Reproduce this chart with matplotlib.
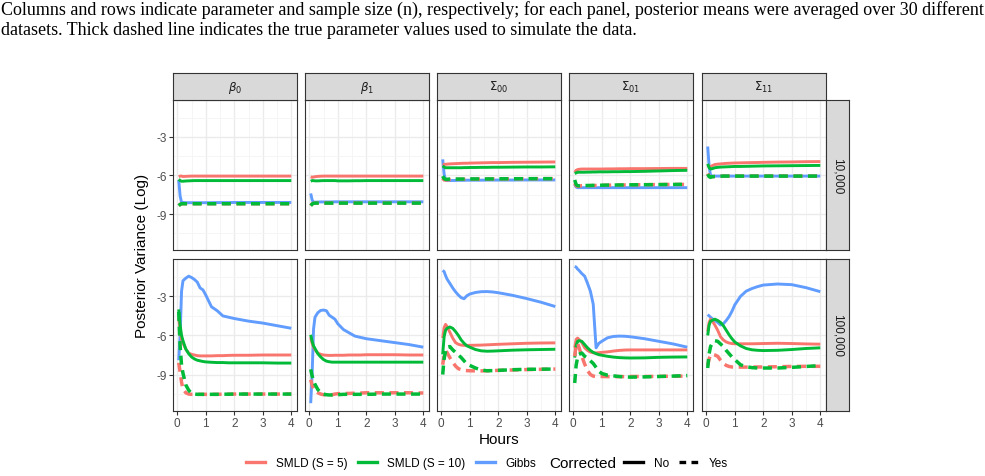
import numpy as np
import matplotlib
matplotlib.use("Agg")
import matplotlib.pyplot as plt
from matplotlib.lines import Line2D

# horas de muestreo (comunes a todas las curvas)
hours = [0.05, 0.1, 0.15, 0.2, 0.3, 0.4, 0.5, 0.6, 0.7, 0.8, 0.9, 1.0,
         1.2, 1.4, 1.6, 1.8, 2.0, 2.5, 3.0, 3.5, 4.0]

params = [r"$\beta_0$", r"$\beta_1$", r"$\Sigma_{00}$", r"$\Sigma_{01}$", r"$\Sigma_{11}$"]
sizes = ["10,000", "100,000"]
methods = ["SMLD (S = 5)", "SMLD (S = 10)", "Gibbs"]
colors = ["#F8766D", "#00BA38", "#619CFF"]

# n = 10,000 (una lista por parametro)
top_smld5 = [
    [-6.1, -6.05, -6.05, -6.08, -6.07, -6.06, -6.05, -6.05, -6.05, -6.05, -6.05, -6.05, -6.05, -6.05, -6.05, -6.05, -6.05, -6.05, -6.05, -6.05, -6.05],
    [-6.1, -6.15, -6.12, -6.1, -6.07, -6.06, -6.05, -6.05, -6.05, -6.05, -6.05, -6.05, -6.05, -6.05, -6.05, -6.05, -6.05, -6.05, -6.05, -6.05, -6.05],
    [-5.1, -5.15, -5.13, -5.12, -5.1, -5.09, -5.08, -5.07, -5.06, -5.05, -5.05, -5.04, -5.03, -5.02, -5.01, -5.0, -5.0, -4.98, -4.97, -4.96, -4.95],
    [-5.75, -5.6, -5.55, -5.52, -5.5, -5.5, -5.5, -5.5, -5.5, -5.5, -5.5, -5.5, -5.49, -5.49, -5.48, -5.48, -5.47, -5.47, -5.46, -5.45, -5.45],
    [-5.2, -5.3, -5.3, -5.25, -5.15, -5.12, -5.1, -5.08, -5.06, -5.05, -5.04, -5.03, -5.02, -5.01, -5.0, -4.99, -4.98, -4.96, -4.95, -4.93, -4.92],
]
top_smld10 = [
    [-6.3, -6.4, -6.45, -6.45, -6.43, -6.42, -6.41, -6.4, -6.4, -6.4, -6.4, -6.4, -6.4, -6.4, -6.4, -6.4, -6.4, -6.4, -6.4, -6.4, -6.4],
    [-6.45, -6.4, -6.4, -6.42, -6.42, -6.41, -6.4, -6.4, -6.4, -6.4, -6.4, -6.42, -6.42, -6.42, -6.41, -6.41, -6.4, -6.4, -6.4, -6.4, -6.4],
    [-5.25, -5.35, -5.4, -5.4, -5.4, -5.4, -5.4, -5.4, -5.4, -5.39, -5.39, -5.38, -5.38, -5.37, -5.37, -5.36, -5.36, -5.35, -5.34, -5.34, -5.33],
    [-5.85, -5.8, -5.75, -5.75, -5.75, -5.75, -5.74, -5.74, -5.73, -5.73, -5.72, -5.72, -5.72, -5.71, -5.71, -5.7, -5.7, -5.68, -5.65, -5.62, -5.6],
    [-5.1, -5.4, -5.5, -5.48, -5.4, -5.37, -5.35, -5.34, -5.33, -5.32, -5.31, -5.3, -5.3, -5.29, -5.28, -5.27, -5.26, -5.25, -5.24, -5.23, -5.22],
]
top_gibbs = [
    [-6.35, -7.6, -8.1, -8.1, -8.12, -8.12, -8.12, -8.12, -8.12, -8.12, -8.12, -8.12, -8.12, -8.11, -8.11, -8.11, -8.1, -8.1, -8.1, -8.1, -8.1],
    [-7.4, -7.9, -8.1, -8.08, -8.07, -8.06, -8.06, -8.06, -8.06, -8.06, -8.05, -8.05, -8.05, -8.05, -8.05, -8.05, -8.05, -8.05, -8.05, -8.05, -8.05],
    [-4.75, -5.9, -6.35, -6.4, -6.4, -6.39, -6.39, -6.38, -6.38, -6.38, -6.37, -6.37, -6.37, -6.37, -6.36, -6.36, -6.36, -6.36, -6.35, -6.35, -6.35],
    [-6.7, -6.9, -6.95, -6.95, -6.95, -6.95, -6.95, -6.95, -6.95, -6.95, -6.95, -6.95, -6.95, -6.95, -6.95, -6.95, -6.95, -6.95, -6.95, -6.95, -6.95],
    [-3.75, -5.3, -6.0, -6.05, -6.05, -6.05, -6.05, -6.05, -6.05, -6.05, -6.05, -6.05, -6.05, -6.05, -6.05, -6.05, -6.05, -6.05, -6.05, -6.05, -6.05],
]
top_smld5_corr = [
    [-8.35, -8.25, -8.2, -8.2, -8.2, -8.2, -8.2, -8.2, -8.2, -8.2, -8.2, -8.2, -8.2, -8.2, -8.2, -8.2, -8.2, -8.2, -8.2, -8.2, -8.2],
    [-8.35, -8.2, -8.17, -8.15, -8.15, -8.15, -8.15, -8.15, -8.15, -8.15, -8.15, -8.15, -8.15, -8.15, -8.15, -8.15, -8.15, -8.15, -8.15, -8.15, -8.15],
    [-6.2, -6.35, -6.35, -6.35, -6.32, -6.3, -6.3, -6.3, -6.3, -6.3, -6.3, -6.29, -6.29, -6.28, -6.28, -6.28, -6.27, -6.27, -6.26, -6.25, -6.25],
    [-6.6, -6.8, -6.85, -6.83, -6.8, -6.8, -6.8, -6.79, -6.79, -6.78, -6.78, -6.77, -6.76, -6.75, -6.75, -6.74, -6.73, -6.72, -6.71, -6.7, -6.7],
    [-5.85, -6.05, -6.1, -6.1, -6.08, -6.07, -6.06, -6.05, -6.05, -6.05, -6.05, -6.05, -6.05, -6.05, -6.05, -6.05, -6.05, -6.05, -6.05, -6.05, -6.05],
]
top_smld10_corr = [
    [-8.35, -8.25, -8.2, -8.2, -8.2, -8.2, -8.2, -8.2, -8.2, -8.2, -8.2, -8.2, -8.2, -8.2, -8.2, -8.2, -8.2, -8.2, -8.2, -8.2, -8.2],
    [-8.35, -8.22, -8.17, -8.15, -8.15, -8.15, -8.15, -8.15, -8.15, -8.15, -8.15, -8.15, -8.15, -8.15, -8.15, -8.15, -8.15, -8.15, -8.15, -8.15, -8.15],
    [-6.05, -6.25, -6.3, -6.3, -6.28, -6.28, -6.28, -6.28, -6.28, -6.28, -6.28, -6.27, -6.27, -6.27, -6.27, -6.27, -6.26, -6.26, -6.25, -6.25, -6.25],
    [-6.35, -6.7, -6.8, -6.8, -6.78, -6.78, -6.78, -6.78, -6.77, -6.77, -6.77, -6.76, -6.75, -6.75, -6.74, -6.74, -6.73, -6.72, -6.71, -6.7, -6.69],
    [-5.9, -6.1, -6.15, -6.1, -6.08, -6.07, -6.06, -6.05, -6.05, -6.05, -6.05, -6.05, -6.05, -6.05, -6.05, -6.05, -6.05, -6.05, -6.05, -6.05, -6.05],
]

# n = 100,000
bot_smld5 = [
    [-4.65, -5.6, -6.3, -6.6, -7.05, -7.35, -7.45, -7.5, -7.55, -7.57, -7.57, -7.57, -7.57, -7.55, -7.55, -7.53, -7.52, -7.52, -7.5, -7.5, -7.5],
    [-6.15, -6.6, -6.9, -7.1, -7.35, -7.45, -7.5, -7.52, -7.53, -7.53, -7.52, -7.52, -7.52, -7.5, -7.5, -7.5, -7.48, -7.48, -7.48, -7.5, -7.5],
    [-6.2, -5.4, -5.15, -5.3, -5.75, -6.2, -6.55, -6.68, -6.74, -6.76, -6.76, -6.76, -6.75, -6.74, -6.72, -6.7, -6.68, -6.64, -6.6, -6.58, -6.57],
    [-6.95, -6.3, -6.2, -6.3, -6.55, -6.95, -7.15, -7.28, -7.33, -7.34, -7.32, -7.3, -7.26, -7.2, -7.15, -7.12, -7.11, -7.11, -7.11, -7.11, -7.11],
    [-5.7, -5.0, -4.75, -4.85, -5.2, -5.6, -6.1, -6.35, -6.5, -6.58, -6.62, -6.64, -6.64, -6.64, -6.64, -6.63, -6.62, -6.6, -6.62, -6.65, -6.67],
]
bot_smld10 = [
    [-4.0, -5.2, -6.0, -6.4, -7.05, -7.4, -7.65, -7.8, -7.9, -7.95, -8.0, -8.03, -8.06, -8.08, -8.08, -8.1, -8.1, -8.1, -8.1, -8.12, -8.12],
    [-5.95, -6.45, -6.8, -7.0, -7.4, -7.65, -7.85, -7.97, -8.02, -8.05, -8.05, -8.05, -8.05, -8.05, -8.05, -8.05, -8.05, -8.05, -8.05, -8.05, -8.05],
    [-7.45, -6.1, -5.6, -5.45, -5.35, -5.45, -5.7, -6.0, -6.35, -6.6, -6.8, -6.9, -7.08, -7.18, -7.21, -7.2, -7.18, -7.13, -7.1, -7.08, -7.06],
    [-7.7, -6.8, -6.45, -6.4, -6.45, -6.7, -6.95, -7.15, -7.3, -7.4, -7.48, -7.52, -7.6, -7.66, -7.7, -7.72, -7.73, -7.72, -7.68, -7.66, -7.65],
    [-6.0, -5.2, -4.9, -4.85, -4.75, -4.85, -5.0, -5.25, -5.6, -5.95, -6.25, -6.5, -6.8, -7.0, -7.1, -7.14, -7.16, -7.14, -7.08, -7.0, -6.95],
]
bot_gibbs = [
    [-7.9, -6.0, -2.6, -1.8, -1.6, -1.45, -1.55, -1.7, -1.9, -2.35, -2.5, -2.9, -3.8, -4.1, -4.5, -4.6, -4.7, -4.9, -5.05, -5.25, -5.45],
    [-11.2, -9.0, -5.5, -4.6, -4.25, -4.08, -4.05, -4.1, -4.45, -4.6, -4.75, -5.1, -5.55, -5.8, -6.05, -6.15, -6.25, -6.4, -6.55, -6.7, -6.9],
    [-1.0, -1.1, -1.4, -1.66, -2.0, -2.35, -2.65, -2.9, -3.1, -3.18, -2.95, -2.82, -2.7, -2.64, -2.63, -2.66, -2.72, -2.92, -3.17, -3.45, -3.78],
    [-0.7, -0.75, -0.9, -1.0, -1.25, -1.45, -2.0, -2.6, -3.6, -6.95, -6.6, -6.45, -6.18, -6.08, -6.05, -6.06, -6.1, -6.25, -6.45, -6.65, -6.9],
    [-4.4, -4.5, -4.6, -4.7, -4.85, -5.0, -5.2, -5.1, -4.85, -4.55, -4.15, -3.65, -3.0, -2.6, -2.4, -2.25, -2.13, -2.05, -2.1, -2.33, -2.64],
]
bot_smld5_corr = [
    [-8.1, -8.8, -9.6, -10.1, -10.4, -10.5, -10.52, -10.52, -10.52, -10.52, -10.52, -10.52, -10.52, -10.52, -10.51, -10.51, -10.5, -10.5, -10.5, -10.5, -10.5],
    [-9.4, -9.8, -10.1, -10.25, -10.4, -10.5, -10.55, -10.57, -10.57, -10.55, -10.5, -10.47, -10.45, -10.45, -10.43, -10.42, -10.4, -10.4, -10.4, -10.4, -10.42],
    [-8.25, -7.5, -7.2, -7.3, -7.7, -8.05, -8.35, -8.55, -8.63, -8.68, -8.7, -8.71, -8.72, -8.72, -8.71, -8.7, -8.68, -8.65, -8.62, -8.6, -8.58],
    [-7.6, -6.7, -6.6, -6.9, -7.6, -8.2, -8.7, -9.0, -9.12, -9.15, -9.15, -9.15, -9.16, -9.16, -9.16, -9.16, -9.15, -9.15, -9.14, -9.13, -9.12],
    [-8.3, -7.8, -7.5, -7.45, -7.5, -7.6, -7.9, -8.15, -8.3, -8.38, -8.42, -8.43, -8.43, -8.43, -8.43, -8.42, -8.42, -8.4, -8.38, -8.37, -8.37],
]
bot_smld10_corr = [
    [-4.2, -6.8, -8.3, -8.9, -9.8, -10.2, -10.45, -10.5, -10.52, -10.52, -10.52, -10.52, -10.52, -10.52, -10.51, -10.51, -10.5, -10.5, -10.5, -10.5, -10.5],
    [-8.6, -9.1, -9.5, -9.75, -10.15, -10.4, -10.5, -10.55, -10.57, -10.57, -10.55, -10.55, -10.52, -10.52, -10.52, -10.52, -10.52, -10.5, -10.5, -10.5, -10.5],
    [-9.0, -7.8, -7.2, -6.9, -6.85, -7.1, -7.3, -7.5, -7.7, -7.95, -8.2, -8.3, -8.5, -8.65, -8.71, -8.7, -8.68, -8.63, -8.6, -8.59, -8.58],
    [-9.65, -8.3, -7.7, -7.45, -7.35, -7.6, -7.75, -7.95, -8.15, -8.45, -8.75, -8.92, -9.05, -9.1, -9.15, -9.18, -9.2, -9.18, -9.15, -9.12, -9.08],
    [-8.5, -7.4, -6.85, -6.65, -6.4, -6.45, -6.65, -6.85, -7.15, -7.4, -7.65, -7.85, -8.25, -8.4, -8.47, -8.5, -8.5, -8.5, -8.45, -8.38, -8.32],
]

W, H = 985, 477
fig = plt.figure(figsize=(W / 100, H / 100), dpi=100)
plt.rcParams["font.family"] = ["Liberation Sans", "DejaVu Sans"]
plt.rcParams["mathtext.fontset"] = "dejavusans"

def box(x0, y0, x1, y1):
    # pixeles (desde arriba) -> coordenadas de figura
    return [x0 / W, 1 - y1 / H, (x1 - x0) / W, (y1 - y0) / H]

col_left = [173, 305, 437, 569, 702]
pw = 124
rows_y = [(101, 251), (260, 412)]
dark = "#333333"
lw_solid, lw_dash = 2.1, 2.5

for r in range(2):
    if r == 0:
        series = [top_smld5, top_smld10, top_gibbs, top_smld5_corr, top_smld10_corr]
    else:
        series = [bot_smld5, bot_smld10, bot_gibbs, bot_smld5_corr, bot_smld10_corr]
    for c in range(5):
        ax = fig.add_axes(box(col_left[c], rows_y[r][0], col_left[c] + pw, rows_y[r][1]))
        ax.set_xlim(-0.15, 4.2)
        ax.set_ylim(-11.8, -0.13)
        ax.set_xticks([0, 1, 2, 3, 4])
        ax.set_xticks([0.5, 1.5, 2.5, 3.5], minor=True)
        ax.set_yticks([-3, -6, -9])
        ax.set_yticks([-1.5, -4.5, -7.5, -10.5], minor=True)
        ax.grid(True, which="major", color="#EBEBEB", linewidth=1.0, zorder=0)
        ax.grid(True, which="minor", color="#F4F4F4", linewidth=0.6, zorder=0)
        ax.set_axisbelow(True)
        for s in ax.spines.values():
            s.set_color(dark)
            s.set_linewidth(0.8)
        ax.tick_params(which="major", length=3, width=0.8, color=dark,
                       labelsize=8.5, labelcolor="#4D4D4D", pad=1.5)
        ax.tick_params(which="minor", length=0)
        if c > 0:
            ax.tick_params(axis="y", which="major", length=0, labelleft=False)
        if r == 0:
            ax.tick_params(axis="x", which="major", length=0, labelbottom=False)
        ax.set_yticklabels(["-3", "-6", "-9"])
        # Gibbs primero, luego SMLD, luego las corregidas (discontinuas)
        ax.plot(hours, series[2][c], color=colors[2], lw=lw_solid, solid_capstyle="butt", zorder=2)
        ax.plot(hours, series[0][c], color=colors[0], lw=lw_solid, solid_capstyle="butt", zorder=3)
        ax.plot(hours, series[1][c], color=colors[1], lw=lw_solid, solid_capstyle="butt", zorder=3)
        ax.plot(hours, series[3][c], color=colors[0], lw=lw_dash, dashes=(2.6, 1.6), zorder=4)
        ax.plot(hours, series[4][c], color=colors[1], lw=lw_dash, dashes=(2.6, 1.6), zorder=4)

        if r == 0:
            st = fig.add_axes(box(col_left[c], 74, col_left[c] + pw, 101))
            st.set_facecolor("#D9D9D9")
            st.set_xticks([]); st.set_yticks([])
            for s in st.spines.values():
                s.set_color(dark); s.set_linewidth(0.8)
            st.text(0.5, 0.5, params[c], ha="center", va="center", fontsize=8.5,
                    color="#1A1A1A", transform=st.transAxes)
        if c == 4:
            st = fig.add_axes(box(826, rows_y[r][0], 849, rows_y[r][1]))
            st.set_facecolor("#D9D9D9")
            st.set_xticks([]); st.set_yticks([])
            for s in st.spines.values():
                s.set_color(dark); s.set_linewidth(0.8)
            st.text(0.5, 0.5, sizes[r], ha="center", va="center", fontsize=8.5,
                    rotation=-90, color="#1A1A1A", transform=st.transAxes)

# titulos de ejes
fig.text(142 / W, 1 - 256 / H, "Posterior Variance (Log)", rotation=90,
         ha="center", va="center", fontsize=11)
fig.text(499 / W, 1 - 440 / H, "Hours", ha="center", va="center", fontsize=11)

# leyenda
h_col = [Line2D([], [], color=col, lw=2.4) for col in colors]
leg1 = fig.legend(h_col, methods, loc="center left", bbox_to_anchor=(246 / W, 1 - 464 / H),
                  ncol=3, frameon=False, fontsize=8.5, handlelength=1.6, handletextpad=0.9,
                  columnspacing=0.9, borderpad=0, borderaxespad=0)
fig.text(549 / W, 1 - 464 / H, "Corrected", ha="left", va="center", fontsize=11)
h_lt = [Line2D([], [], color="black", lw=2.4),
        Line2D([], [], color="black", lw=2.4, dashes=(2.0, 1.6))]
leg2 = fig.legend(h_lt, ["No", "Yes"], loc="center left", bbox_to_anchor=(624 / W, 1 - 464 / H),
                  ncol=2, frameon=False, fontsize=8.5, handlelength=1.6, handletextpad=0.9,
                  columnspacing=0.9, borderpad=0, borderaxespad=0)

# pie de figura (texto del articulo)
caption = ["Columns and rows indicate parameter and sample size (n), respectively; for each panel, "
           "posterior means were averaged over 30 different",
           "datasets. Thick dashed line indicates the true parameter values used to simulate the data."]
fig.text(1 / W, 1 - 15 / H, caption[0], family="Liberation Serif", fontsize=13, va="baseline")
fig.text(1 / W, 1 - 35 / H, caption[1], family="Liberation Serif", fontsize=13, va="baseline")

fig.savefig("out.png", dpi=100)
